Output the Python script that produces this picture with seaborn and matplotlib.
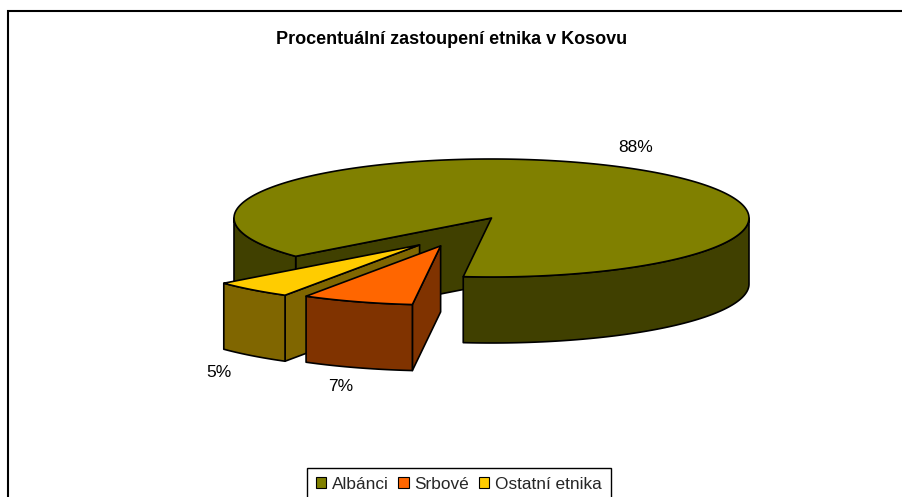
import numpy as np
import matplotlib
matplotlib.use("Agg")
import matplotlib.pyplot as plt
import seaborn as sns
from matplotlib.patches import Polygon, Patch

# ---------------- data ----------------
categories = ["Albánci", "Srbové", "Ostatní etnika"]
values = [88, 7, 5]
title = "Procentuální zastoupení etnika v Kosovu"

# ---------------- style ----------------
top_colors = sns.color_palette(["#808000", "#FF6600", "#FFCC00"])
side_colors = sns.color_palette(["#404000", "#803300", "#806600"])
explode_x = [0.0, 0.61, 0.43]
explode_y = [0.0, 0.50, 0.60]
CX, CY = 491.5, 218.0      # pie centre (pixel space of the axes)
A, B = 257.5, 59.0         # ellipse semi-axes
DEPTH = 66.0               # thickness of the 3D pie
START = 220.5              # start angle (degrees, clockwise like Excel)
LBL_K = 1.2

sns.set_theme(style="white")
plt.rcParams["font.family"] = ["Liberation Sans", "DejaVu Sans"]

fig = plt.figure(figsize=(9.03, 4.97), dpi=100)
ax = fig.add_axes([0, 0, 1, 1])
ax.set_xlim(0, 903)
ax.set_ylim(497, 0)
ax.axis("off")

EC = "black"
LW = 1.2


def ell(cx, cy, t, dz=0.0):
    r = np.radians(t)
    return (cx + A * np.cos(r), cy - B * np.sin(r) + dz)


def arc(cx, cy, t1, t2, dz=0.0):
    n = max(2, int(abs(t2 - t1)) + 2)
    return [ell(cx, cy, t, dz) for t in np.linspace(t1, t2, n)]


def poly(pts, fc):
    ax.add_patch(Polygon(pts, closed=True, facecolor=fc, edgecolor=EC,
                         linewidth=LW, joinstyle="round"))


total = float(sum(values))
slices = []
cum = 0.0
for i, v in enumerate(values):
    end = START - cum * 360.0 / total
    begin = end - v * 360.0 / total
    cum += v
    mid = 0.5 * (begin + end)
    mr = np.radians(mid)
    cx = CX + A * explode_x[i] * np.cos(mr)
    cy = CY - B * explode_y[i] * np.sin(mr)
    slices.append(dict(i=i, begin=begin, end=end, mid=mid, cx=cx, cy=cy))

# back to front
for s in sorted(slices, key=lambda s: -np.sin(np.radians(s["mid"]))):
    i, b, e, cx, cy = s["i"], s["begin"], s["end"], s["cx"], s["cy"]
    # cut faces
    for t, vis in ((e, np.cos(np.radians(e)) < 0), (b, np.cos(np.radians(b)) > 0)):
        if vis:
            p1 = (cx, cy)
            p2 = ell(cx, cy, t)
            p3 = ell(cx, cy, t, DEPTH)
            p4 = (cx, cy + DEPTH)
            poly([p1, p2, p3, p4], side_colors[i])
    # outer side (front half only)
    for k in range(-2, 3):
        lo = max(b, 180 + 360 * k)
        hi = min(e, 360 + 360 * k)
        if hi > lo:
            top = arc(cx, cy, lo, hi)
            bot = arc(cx, cy, hi, lo, DEPTH)
            poly(top + bot, side_colors[i])
    # top face
    poly([(cx, cy)] + arc(cx, cy, b, e), top_colors[i])

# data labels
for s in slices:
    mr = np.radians(s["mid"])
    x = s["cx"] + A * LBL_K * np.cos(mr)
    y = s["cy"] - B * LBL_K * np.sin(mr)
    if np.sin(mr) < 0:
        y += DEPTH
        va = "top"
    else:
        va = "bottom"
    ax.text(x, y, f"{values[s['i']]}%", ha="center", va=va, fontsize=12.5,
            color="black")

# title
ax.text(452, 40, title, ha="center", va="center", fontsize=13,
        fontweight="bold", color="black")

# chart frame (left and top edges visible)
ax.plot([8, 8, 903], [497, 11, 11], color="black", lw=1.5,
        solid_joinstyle="miter", clip_on=False)

# legend
handles = [Patch(facecolor=top_colors[i], edgecolor="black", linewidth=0.8)
           for i in range(len(categories))]
leg = ax.legend(handles, categories, loc="upper left",
                bbox_to_anchor=(307 / 903, 1 - 468 / 497),
                bbox_transform=fig.transFigure, ncol=3, frameon=True,
                fancybox=False, fontsize=12.4, handlelength=0.6,
                handleheight=0.6, handletextpad=0.35, columnspacing=0.55,
                borderpad=0.5, borderaxespad=0)
leg.get_frame().set_edgecolor("black")
leg.get_frame().set_linewidth(1.0)
leg.get_frame().set_alpha(1)

fig.savefig("out.png", dpi=100)
